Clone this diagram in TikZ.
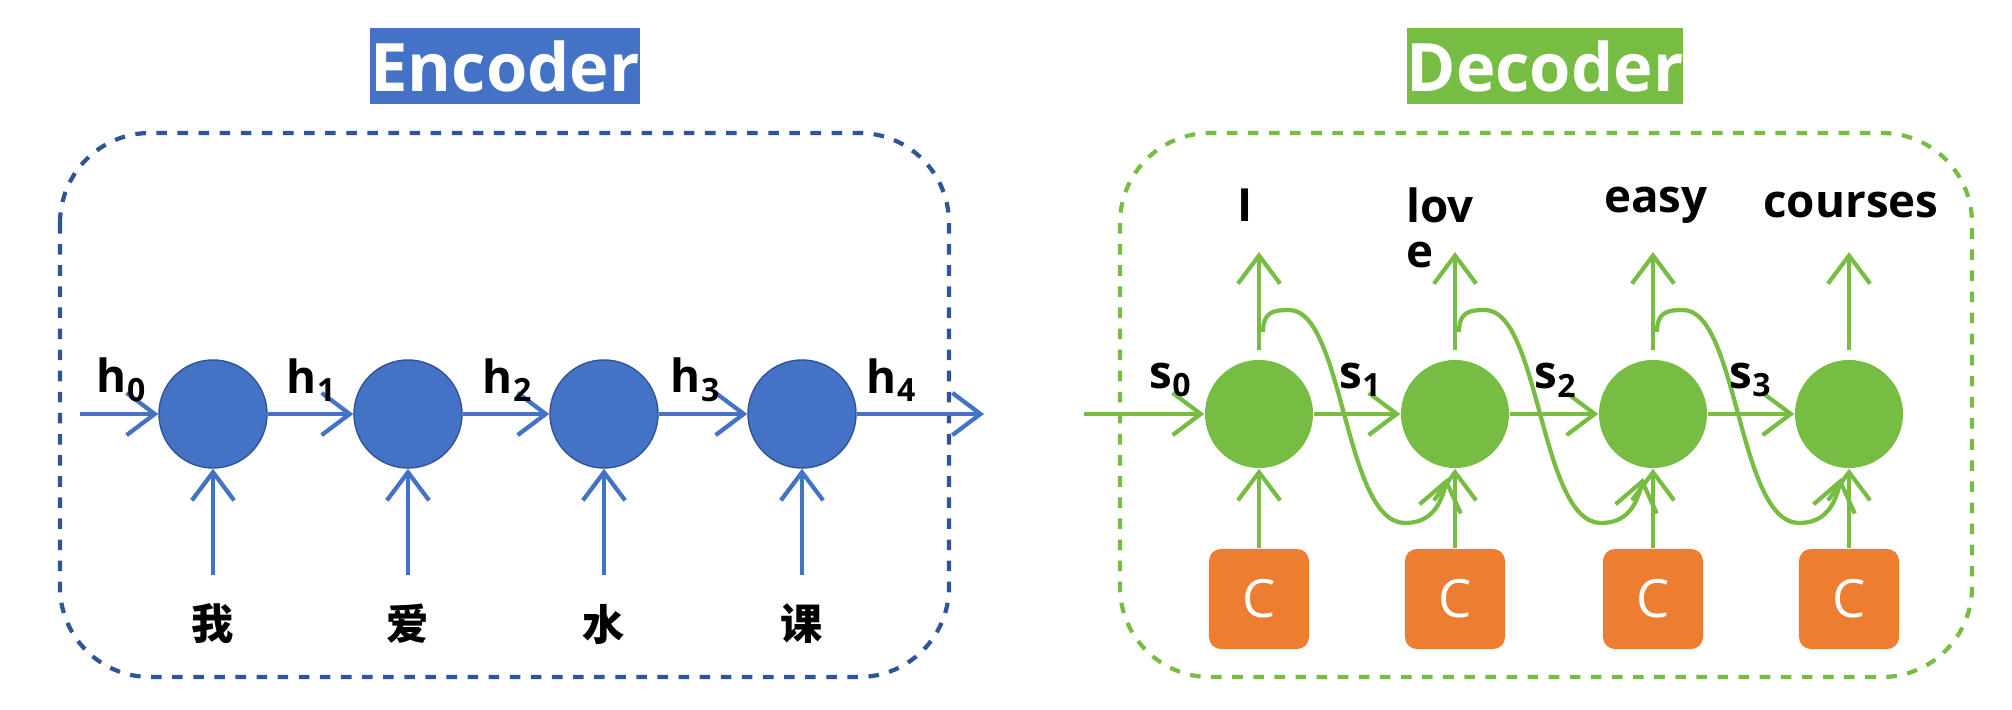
\documentclass[tikz,border=0pt]{standalone}
\usepackage{fontspec}
\setmainfont{Open Sans}
\newfontfamily\cjk{Noto Sans CJK SC}
\usetikzlibrary{arrows.meta}
\definecolor{eblue}{HTML}{4472C4}
\definecolor{dblue}{HTML}{2F5597}
\definecolor{dgreen}{HTML}{77BC43}
\definecolor{corange}{HTML}{ED7D31}
\begin{document}
\begin{tikzpicture}[x=0.01cm,y=-0.01cm,
  enc/.style={circle,fill=eblue,draw=dblue,line width=0.4pt,minimum size=1.08cm,inner sep=0pt},
  dec/.style={circle,fill=dgreen,minimum size=1.08cm,inner sep=0pt},
  cbox/.style={rectangle,rounded corners=0.12cm,fill=corange,minimum size=1cm,inner sep=0pt,text=white,font=\fontsize{15}{15}\selectfont},
  title/.style={minimum width=2.66cm,minimum height=0.75cm,inner sep=0pt,text=white,font=\fontsize{19}{19}\selectfont\bfseries},
  lab/.style={font=\fontsize{13}{13}\selectfont\bfseries},
  cn/.style={font=\cjk\fontsize{12}{12}\selectfont\bfseries},
  ea/.style={eblue,line width=1.2pt,-{Straight Barb[length=8pt,width=12pt]}},
  ga/.style={dgreen,line width=1.2pt,-{Straight Barb[length=8pt,width=12pt]}}]
\useasboundingbox (0,0) rectangle (2012,710);
\draw[dblue,dashed,line width=1.2pt,rounded corners=0.9cm] (60,133) rectangle (949,677);
\draw[dgreen,dashed,line width=1.2pt,rounded corners=0.9cm] (1120,133) rectangle (1972,677);
\node[title,fill=eblue] (et) at (505,66) {Encoder};
\node[title,fill=dgreen] (dt) at (1545,66) {Decoder};
% encoder
\coordinate (ein) at (80,414);
\coordinate (eout) at (984,414);
\foreach \i/\x/\c in {1/213/我,2/408/爱,3/604/水,4/802/课}{
  \node[enc] (e\i) at (\x,414) {};
  \coordinate (eb\i) at (\x,575);
  \node[cn] (ec\i) at (\x,624) {\c};
  \draw[ea] (eb\i) -- (e\i);
}
\draw[ea] (ein) -- (e1);
\draw[ea] (e1) -- (e2);
\draw[ea] (e2) -- (e3);
\draw[ea] (e3) -- (e4);
\draw[ea] (e4) -- (eout);
\node[lab] (h0) at (122,380) {h$_{\mathbf 0}$};
\node[lab] (h1) at (312,380) {h$_{\mathbf 1}$};
\node[lab] (h2) at (508,380) {h$_{\mathbf 2}$};
\node[lab] (h3) at (696,380) {h$_{\mathbf 3}$};
\node[lab] (h4) at (892,380) {h$_{\mathbf 4}$};
% decoder
\coordinate (din) at (1084,414);
\foreach \i/\x in {1/1259,2/1455,3/1653,4/1849}{
  \node[dec] (d\i) at (\x,414) {};
  \node[cbox] (c\i) at (\x,599) {C};
  \coordinate (ub\i) at (\x,350);
  \coordinate (up\i) at (\x,252);
  \draw[ga] (c\i) -- (d\i);
  \draw[ga] (ub\i) -- (up\i);
}
\draw[ga] (din) -- (d1);
\draw[ga] (d1) -- (d2);
\draw[ga] (d2) -- (d3);
\draw[ga] (d3) -- (d4);
\foreach \i/\x in {1/1259,2/1455,3/1653}{
  \coordinate (cs\i) at (\x+4,332);
  \coordinate (ce\i) at (\x+188,478);
  \draw[ga] (cs\i) .. controls (\x+4,312) and (\x+14,310) .. (\x+30,310)
     .. controls (\x+85,310) and (\x+85,523) .. (\x+146,523)
     .. controls (\x+172,523) and (\x+182,505) .. (ce\i);
}
\node[lab] (s0) at (1171,380) {s$_{\mathbf 0}$};
\node[lab] (s1) at (1361,380) {s$_{\mathbf 1}$};
\node[lab] (s2) at (1556,380) {s$_{\mathbf 2}$};
\node[lab] (s3) at (1751,380) {s$_{\mathbf 3}$};
\node[lab] (w1) at (1245,205) {I};
\node[lab,align=left] (w2) at (1440,228) {lov\\e};
\node[lab] (w3) at (1656,205) {easy};
\node[lab] (w4) at (1851,205) {courses};
\end{tikzpicture}
\end{document}
